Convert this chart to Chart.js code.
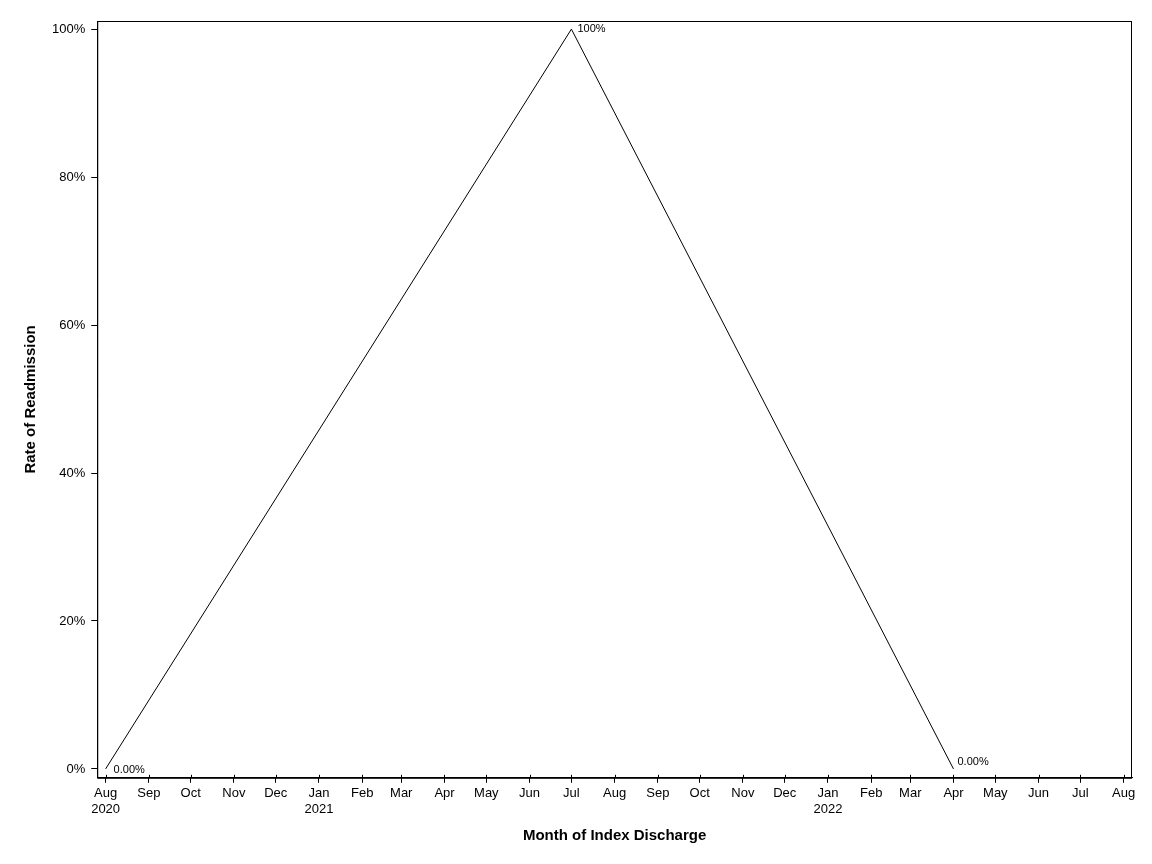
<!DOCTYPE html>
<html>
<head>
<meta charset="utf-8">
<script src="https://cdn.jsdelivr.net/npm/chart.js@4"></script>
<style>
  html, body { margin: 0; padding: 0; background: #fff; }
  #wrap { width: 1152px; height: 864px; }
</style>
</head>
<body>
<div id="wrap"><canvas id="readmit"></canvas></div>
<script>
// discharge months with data, and rate of readmission (%)
const months = ['2020-08', '2021-07', '2022-04'];
const rates = [0, 100, 0];
const rateLabels = ['0.00%', '100%', '0.00%'];

// axis ticks
const tickMonths = ['2020-08', '2020-09', '2020-10', '2020-11', '2020-12', '2021-01', '2021-02', '2021-03',
  '2021-04', '2021-05', '2021-06', '2021-07', '2021-08', '2021-09', '2021-10', '2021-11', '2021-12',
  '2022-01', '2022-02', '2022-03', '2022-04', '2022-05', '2022-06', '2022-07', '2022-08'];
const yTicks = [0, 20, 40, 60, 80, 100];
const monthNames = ['Jan', 'Feb', 'Mar', 'Apr', 'May', 'Jun', 'Jul', 'Aug', 'Sep', 'Oct', 'Nov', 'Dec'];

// days since first month, so the axis is spaced like a time axis
const t0 = Date.UTC(2020, 7, 1);
function dayOf(m) {
  const [y, mo] = m.split('-').map(Number);
  return Math.round((Date.UTC(y, mo - 1, 1) - t0) / 86400000);
}
const tickDays = tickMonths.map(dayOf);

const font = 'Liberation Sans';
Chart.defaults.font.family = font;
Chart.defaults.color = '#000';

// point labels, frame and inner x tick marks
const extras = {
  id: 'extras',
  afterDatasetsDraw(chart) {
    const c = chart.ctx, a = chart.chartArea;
    c.save();
    c.strokeStyle = '#000';
    c.lineWidth = 1;
    c.strokeRect(a.left + 0.5, a.top + 0.5, a.right - a.left - 1, a.bottom - a.top);
    const xs = chart.scales.x;
    c.beginPath();
    tickDays.forEach(d => {
      const px = Math.round(xs.getPixelForValue(d)) + 0.5;
      c.moveTo(px, a.bottom);
      c.lineTo(px, a.bottom - 3);
    });
    c.stroke();
    const offs = [[8, 1], [6, 0], [4, -7]];
    c.font = '11px ' + font;
    c.fillStyle = '#000';
    c.textBaseline = 'middle';
    c.textAlign = 'left';
    chart.getDatasetMeta(0).data.forEach((p, i) => {
      c.fillText(rateLabels[i], p.x + offs[i][0], p.y + offs[i][1]);
    });
    c.restore();
  }
};

new Chart(document.getElementById('readmit'), {
  type: 'line',
  data: {
    datasets: [{
      data: months.map((m, i) => ({ x: dayOf(m), y: rates[i] })),
      borderColor: '#000',
      borderWidth: 1,
      pointRadius: 0,
      tension: 0,
      fill: false
    }]
  },
  options: {
    responsive: true,
    maintainAspectRatio: false,
    animation: false,
    layout: { padding: { left: 18, right: 20, top: 21, bottom: 15 } },
    plugins: { legend: { display: false }, tooltip: { enabled: false } },
    scales: {
      x: {
        type: 'linear',
        min: -6,
        max: 736,
        afterBuildTicks: s => { s.ticks = tickDays.map(v => ({ value: v })); },
        grid: { drawOnChartArea: false, tickLength: 5, color: '#000' },
        border: { display: true, color: '#000' },
        ticks: {
          autoSkip: false,
          maxRotation: 0,
          padding: 3,
          font: { size: 13 },
          callback: v => {
            const m = tickMonths[tickDays.indexOf(v)];
            const [y, mo] = m.split('-').map(Number);
            const name = monthNames[mo - 1];
            return (mo === 1 || m === tickMonths[0]) ? [name, String(y)] : name;
          }
        },
        title: { display: true, text: 'Month of Index Discharge', font: { size: 15, weight: 'bold' }, padding: { top: 7 } }
      },
      y: {
        min: -1.2,
        max: 101.1,
        afterBuildTicks: s => { s.ticks = yTicks.map(v => ({ value: v })); },
        grid: { drawOnChartArea: false, tickLength: 6, color: '#000' },
        border: { display: true, color: '#000' },
        ticks: { padding: 6, font: { size: 13 }, callback: v => v + '%' },
        title: { display: true, text: 'Rate of Readmission', font: { size: 15, weight: 'bold' }, padding: { bottom: 6 } }
      }
    }
  },
  plugins: [extras]
});
</script>
</body>
</html>
